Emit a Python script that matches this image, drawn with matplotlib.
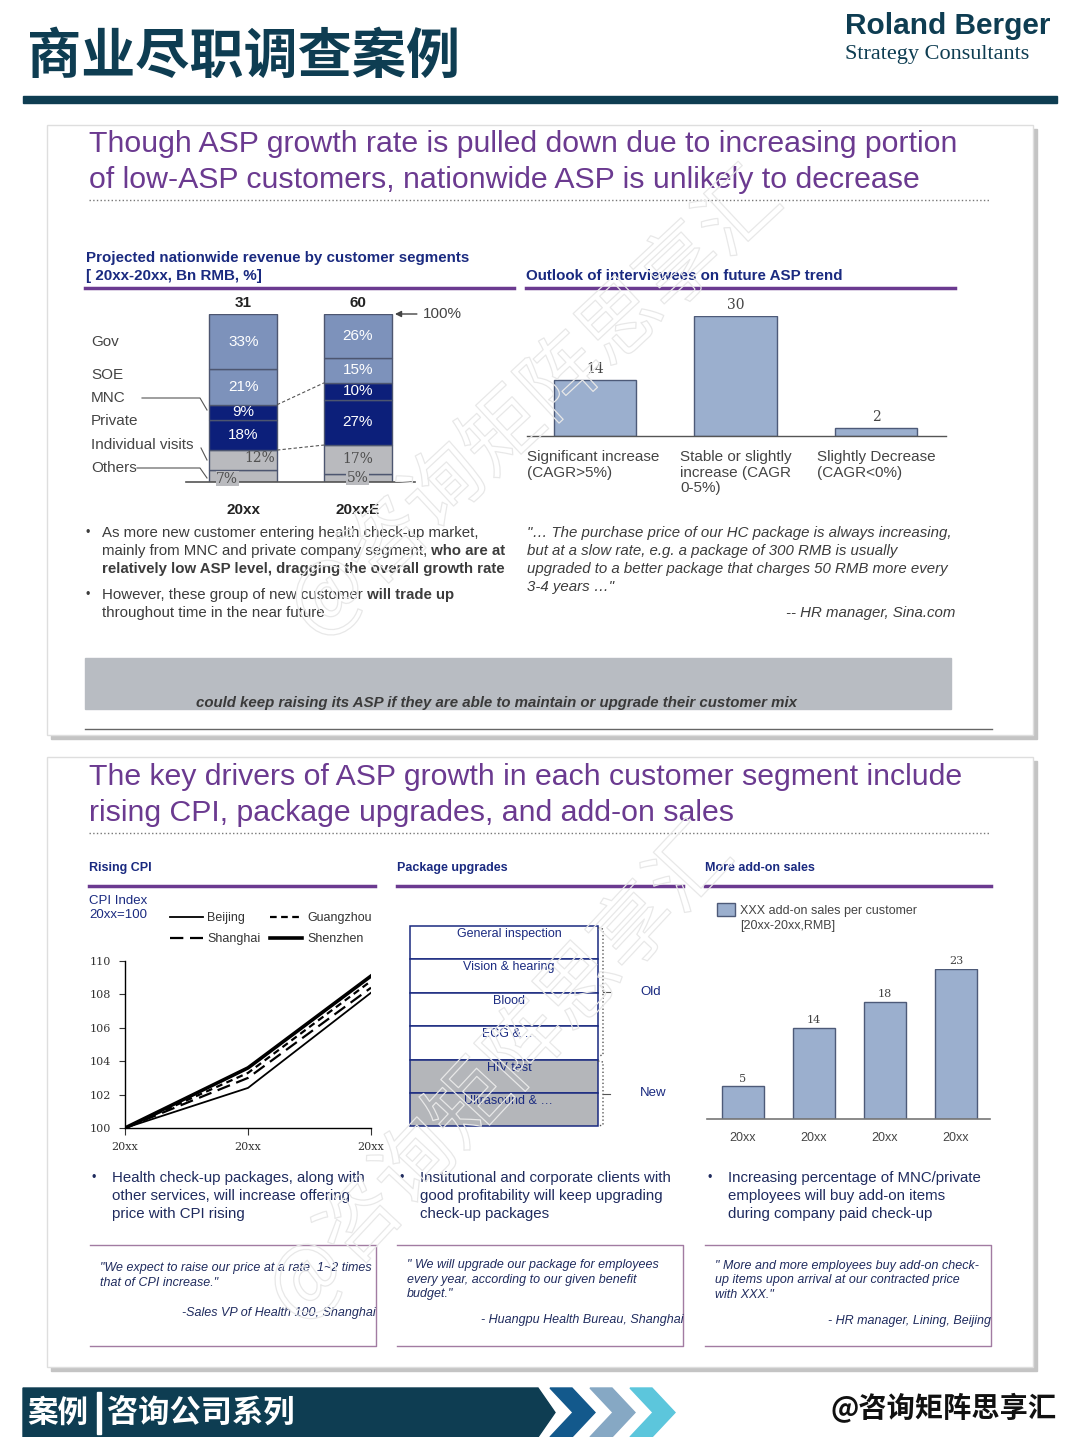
import matplotlib
matplotlib.use('Agg')
import matplotlib.pyplot as plt
from matplotlib.patches import Rectangle, Polygon
import matplotlib.patheffects as pe

plt.rcParams['font.family'] = ['Liberation Sans', 'Noto Sans CJK SC', 'DejaVu Sans']

# ---- data ----
mix_years = ['20xx', '20xxE']
mix_totals = [31, 60]
segments = ['Gov', 'SOE', 'MNC', 'Private', 'Individual visits', 'Others']
mix_20xx = [33, 21, 9, 18, 12, 7]
mix_20xxE = [26, 15, 10, 27, 17, 5]

outlook_cats = ['Significant increase\n(CAGR>5%)',
                'Stable or slightly\nincrease (CAGR\n0-5%)',
                'Slightly Decrease\n(CAGR<0%)']
outlook_vals = [14, 30, 2]

cpi_years = ['20xx', '20xx', '20xx']
cpi_beijing = [100, 102.4, 108.1]
cpi_shanghai = [100, 103.0, 108.4]
cpi_guangzhou = [100, 103.3, 108.8]
cpi_shenzhen = [100, 103.6, 109.1]

package_items = ['General inspection', 'Vision & hearing', 'Blood', 'ECG & …',
                 'HIV test', 'Ultrasound & …']
package_new = [False, False, False, False, True, True]

addon_years = ['20xx', '20xx', '20xx', '20xx']
addon_vals = [5, 14, 18, 23]

# ---- colours / fonts ----
TEAL = '#0e3d52'
PURPLE = '#6b3a90'
NAVY = '#1a2a80'
INK = '#1f2b5e'
GREY_TXT = '#3c3c3c'
LIGHT_BLUE = '#7d92bb'
DARK_BLUE = '#0c1f7a'
GREY_SEG = '#b9babe'
BAR_BLUE = '#9bafce'
BAR_EDGE = '#4d5a78'
SANS = ['Liberation Sans']
SERIF = ['DejaVu Serif']
CJK = ['Noto Sans CJK SC', 'DejaVu Sans']

W, H = 1080, 1437
fig = plt.figure(figsize=(W / 100, H / 100), dpi=100)
bg = fig.add_axes([0, 0, 1, 1])
bg.set_xlim(0, W)
bg.set_ylim(H, 0)
bg.axis('off')


def px_axes(x0, y0, x1, y1):
    return fig.add_axes([x0 / W, 1 - y1 / H, (x1 - x0) / W, (y1 - y0) / H])


def rich(x, y, parts, **kw):
    # draw a line made of normal / bold runs
    r = fig.canvas.get_renderer()
    for s, b in parts:
        t = bg.text(x, y, s, fontweight='bold' if b else 'normal', va='center', **kw)
        x += t.get_window_extent(renderer=r).width


# ---- header ----
bg.text(27, 57, '商业尽职调查案例', fontsize=39, family=CJK, fontweight='black',
        color=TEAL, va='center')
bg.text(845, 26, 'Roland Berger', fontsize=21.5, family=SANS, fontweight='bold',
        color=TEAL, va='center')
bg.text(845, 55, 'Strategy Consultants', fontsize=16, family=['Liberation Serif'],
        color=TEAL, va='center')
bg.add_patch(Rectangle((23, 96), 1034, 7, color=TEAL))

# ---- cards ----
for top in (125, 757):
    bg.add_patch(Rectangle((51, top + 4), 986, 610, color='#c4c4c4', zorder=0))
    bg.add_patch(Rectangle((47, top), 986, 610, fc='white', ec='#dedede', lw=1, zorder=0.5))

# ---- panel 1 ----
bg.text(89, 144, 'Though ASP growth rate is pulled down due to increasing portion',
        fontsize=21.8, color=PURPLE, va='center')
bg.text(89, 180, 'of low-ASP customers, nationwide ASP is unlikely to decrease',
        fontsize=21.8, color=PURPLE, va='center')
bg.plot([89, 990], [200, 200], ls=':', color='#777777', lw=1)

bg.text(86, 258, 'Projected nationwide revenue by customer segments', fontsize=10.9,
        fontweight='bold', color=NAVY, va='center')
bg.text(86, 276, '[ 20xx-20xx, Bn RMB, %]', fontsize=10.9, fontweight='bold', color=NAVY, va='center')
bg.plot([85, 514], [288, 288], color=PURPLE, lw=2.5)
bg.text(526, 276, 'Outlook of interviewees on future ASP trend', fontsize=10.9,
        fontweight='bold', color=NAVY, va='center')
bg.plot([526, 955], [288, 288], color=PURPLE, lw=2.5)

# stacked bars
ax1 = px_axes(186, 314, 415, 482)
ax1.set_xlim(-0.5, 1.5)
ax1.set_ylim(0, 100)
ax1.axis('off')
seg_colors = [LIGHT_BLUE, LIGHT_BLUE, DARK_BLUE, DARK_BLUE, GREY_SEG, GREY_SEG]
bw = 0.59
for i, mix in enumerate([mix_20xx, mix_20xxE]):
    bottom = 0
    for j in range(len(segments) - 1, -1, -1):
        v = mix[j]
        ax1.bar(i, v, bw, bottom=bottom, color=seg_colors[j], edgecolor='#4d5670', lw=1)
        c = bottom + v / 2
        if j < 4:
            ax1.text(i, c, f'{v}%', ha='center', va='center', color='white', fontsize=11)
        else:
            dx, dy = 0, 0
            if i == 0:
                dx, dy = (0.14, 1) if j == 4 else (-0.14, -1.5)
            box = None if j == 4 else dict(boxstyle='square,pad=0.05', fc=GREY_SEG, ec='none')
            ax1.text(i + dx, c + dy, f'{v}%', ha='center', va='center', color='#505050',
                     fontsize=10, family=SERIF, bbox=box)
        bottom += v
    ax1.text(i, 106.5, str(mix_totals[i]), ha='center', va='center', fontsize=11,
             fontweight='bold', color='#222222', clip_on=False)
    ax1.text(i, -16.5, mix_years[i], ha='center', va='center', fontsize=11,
             fontweight='bold', color='#222222', clip_on=False)
ax1.plot([-0.5, 1.5], [0, 0], color='#555555', lw=1.2, clip_on=False)
# dashed links between bars
mnc_top = [100 - m[0] - m[1] for m in (mix_20xx, mix_20xxE)]
priv_bot = [m[4] + m[5] for m in (mix_20xx, mix_20xxE)]
for lvl in (mnc_top, priv_bot):
    ax1.plot([bw / 2, 1 - bw / 2], lvl, ls='--', color='#555555', lw=0.8, dashes=(3, 2))
ax1.annotate('100%', xy=(1 + bw / 2 + 0.03, 100), xytext=(1 + bw / 2 + 0.27, 100),
             va='center', fontsize=11, color='#444444', annotation_clip=False,
             arrowprops=dict(arrowstyle='-|>', color='#444444', lw=1, mutation_scale=9,
                             shrinkA=2, shrinkB=0))
seg_label_y = [342, 375, 398, 421, 445, 468]
for name, y in zip(segments, seg_label_y):
    bg.text(91, y, name, fontsize=11, color='#444444', va='center')
bg.plot([142, 200, 207], [398, 398, 410], color='#555555', lw=0.8)
bg.plot([201, 207], [448, 460], color='#555555', lw=0.8)
bg.plot([137, 200, 207], [468, 468, 478], color='#555555', lw=0.8)

# outlook bars
ax2 = px_axes(527, 316, 946, 436)
ax2.set_xlim(-0.484, 2.498)
ax2.set_ylim(0, 30)
ax2.axis('off')
ax2.bar(range(3), outlook_vals, 0.59, color=BAR_BLUE, edgecolor=BAR_EDGE, lw=1)
ax2.plot([-0.484, 2.498], [0, 0], color='#555555', lw=1, clip_on=False)
for i, v in enumerate(outlook_vals):
    ax2.text(i, v + 2.7, str(v), ha='center', va='center', fontsize=10, family=SERIF,
             color='#444444', clip_on=False)
for x, lab in zip([-0.484, 0.605, 1.58], outlook_cats):
    ax2.text(x, -3.5, lab, ha='left', va='top', fontsize=11, color='#444444',
             linespacing=1.15, clip_on=False)

# bullets and quote
bkw = dict(fontsize=10.8, family=SANS, color=GREY_TXT)
bg.text(86, 533, '•', va='center', fontsize=9, color=GREY_TXT)
rich(102, 533, [('As more new customer entering health check-up market,', False)], **bkw)
rich(102, 551, [('mainly from MNC and private company segment,', False), (' who are at', True)], **bkw)
rich(102, 569, [('relatively low ASP level, dragging the overall growth rate', True)], **bkw)
bg.text(86, 595, '•', va='center', fontsize=9, color=GREY_TXT)
rich(102, 595, [('However, these group of new customer', False), (' will trade up', True)], **bkw)
rich(102, 613, [('throughout time in the near future', False)], **bkw)

quote1 = ['"… The purchase price of our HC package is always increasing,',
          'but at a slow rate, e.g. a package of 300 RMB is usually',
          'upgraded to a better package that charges 50 RMB more every',
          '3-4 years …"']
for k, s in enumerate(quote1):
    bg.text(527, 533 + 18 * k, s, va='center', style='italic', **bkw)
bg.text(955, 613, '-- HR manager, Sina.com', va='center', ha='right', style='italic', **bkw)

bg.add_patch(Rectangle((85, 658), 866, 51, color='#b8bcc2'))
bg.text(196, 703, 'could keep raising its ASP if they are able to maintain or upgrade their customer mix',
        fontsize=10.8, family=SANS, fontweight='bold', style='italic', color='#3a3a3a', va='center')
bg.plot([85, 992], [729, 729], color='#666666', lw=1)

# ---- panel 2 ----
bg.text(89, 777, 'The key drivers of ASP growth in each customer segment include',
        fontsize=21.8, color=PURPLE, va='center')
bg.text(89, 813, 'rising CPI, package upgrades, and add-on sales',
        fontsize=21.8, color=PURPLE, va='center')
bg.plot([89, 990], [833, 833], ls=':', color='#777777', lw=1)

for x0, title in zip([89, 397, 705], ['Rising CPI', 'Package upgrades', 'More add-on sales']):
    bg.text(x0, 868, title, fontsize=9, fontweight='bold', color=NAVY, va='center')
    bg.plot([x0, x0 + 286], [886, 886], color=PURPLE, lw=2.5)

# CPI lines
bg.text(89, 901, 'CPI Index', fontsize=9.5, color=NAVY, va='center')
bg.text(89, 915, '20xx=100', fontsize=9.5, color=NAVY, va='center')
ax3 = px_axes(125, 961, 371, 1128)
ax3.set_xlim(0, 2)
ax3.set_ylim(100, 110)
l_bj, = ax3.plot(range(3), cpi_beijing, color='black', lw=1.3)
l_sh, = ax3.plot(range(3), cpi_shanghai, color='black', lw=1.6, dashes=(6, 3))
l_gz, = ax3.plot(range(3), cpi_guangzhou, color='black', lw=1.6, dashes=(3, 2))
l_sz, = ax3.plot(range(3), cpi_shenzhen, color='black', lw=2.6)
for s in ('top', 'right'):
    ax3.spines[s].set_visible(False)
for s in ('left', 'bottom'):
    ax3.spines[s].set_linewidth(1)
ax3.set_yticks(range(100, 111, 2))
ax3.set_xticks(range(3))
ax3.set_xticklabels(cpi_years)
ax3.tick_params(axis='y', direction='out', length=4, pad=6, labelsize=8, colors='#333333')
ax3.tick_params(axis='x', direction='out', length=5, pad=5, labelsize=8, colors='#333333')
for lab in ax3.get_xticklabels() + ax3.get_yticklabels():
    lab.set_family(SERIF)
ax3.patch.set_alpha(0)
fig.legend([l_bj, l_sh, l_gz, l_sz], ['Beijing', 'Shanghai', 'Guangzhou', 'Shenzhen'],
           ncol=2, frameon=False, loc='upper left', bbox_to_anchor=(170 / W, 1 - 912 / H),
           borderpad=0, borderaxespad=0, fontsize=9, handlelength=2.6, handletextpad=0.4,
           columnspacing=0.7, labelspacing=0.75, labelcolor='#333333')

# package upgrade boxes
row_h = 33.4
for k, (item, new) in enumerate(zip(package_items, package_new)):
    y0 = 926 + k * row_h
    bg.add_patch(Rectangle((410, y0), 188, row_h, fc='#b4b6ba' if new else 'white',
                           ec=NAVY, lw=1.1))
    bg.text(509, y0 + 8, item, ha='center', va='center', fontsize=9, color=NAVY)
for top, bot, lab in [(928, 1056, 'Old'), (1061, 1126, 'New')]:
    mid = (top + bot) / 2
    bg.plot([598, 603, 603, 598], [top, top + 1, bot - 1, bot], ls=':', color='#555555', lw=1)
    bg.plot([603, 610], [mid, mid], color='#555555', lw=0.8)
    bg.text(640, mid, lab, va='center', fontsize=9.5, color=NAVY)

# add-on bars
bg.add_patch(Rectangle((717, 903), 18, 13, fc=BAR_BLUE, ec=BAR_EDGE, lw=1))
bg.text(740, 911, 'XXX add-on sales per customer', fontsize=9, color='#444444', va='center')
bg.text(740, 926, '[20xx-20xx,RMB]', fontsize=9, color='#444444', va='center')
ax4 = px_axes(707, 969, 990, 1119)
ax4.set_xlim(-0.507, 3.479)
ax4.set_ylim(0, 23)
ax4.axis('off')
ax4.bar(range(4), addon_vals, 0.6, color=BAR_BLUE, edgecolor=BAR_EDGE, lw=1)
ax4.plot([-0.507, 3.479], [0, 0], color='#777777', lw=1.2, clip_on=False)
for i, v in enumerate(addon_vals):
    ax4.text(i, v + 1.2, str(v), ha='center', va='center', fontsize=8, family=SERIF,
             color='#444444', clip_on=False)
    ax4.text(i, -2.9, addon_years[i], ha='center', va='center', fontsize=9,
             color='#444444', clip_on=False)

# bullets panel 2
cols = [
    (92, ['Health check-up packages, along with', 'other services, will increase offering',
          'price with CPI rising']),
    (400, ['Institutional and corporate clients with', 'good profitability will keep upgrading',
           'check-up packages']),
    (708, ['Increasing percentage of MNC/private', 'employees will buy add-on items',
           'during company paid check-up']),
]
for x0, lines in cols:
    bg.text(x0, 1178, '•', va='center', fontsize=9, color=INK)
    for k, s in enumerate(lines):
        bg.text(x0 + 20, 1178 + 18 * k, s, va='center', fontsize=10.8, family=SANS, color=INK)

# quote boxes
quotes = [
    (90, ['"We expect to raise our price at a rate  1~2 times', 'that of CPI increase."'],
     1268, 182, 1313, '-Sales VP of Health 100, Shanghai'),
    (397, ['" We will upgrade our package for employees', 'every year, according to our given benefit',
           'budget."'], 1265, 481, 1320, '- Huangpu Health Bureau, Shanghai'),
    (705, ['" More and more employees buy add-on check-', 'up items upon arrival at our contracted price',
           'with XXX."'], 1266, 828, 1321, '- HR manager, Lining, Beijing'),
]
for x0, lines, y_first, ax_x, ax_y, who in quotes:
    x1 = x0 + 286
    bg.plot([x0, x1, x1, x0], [1245, 1245, 1346, 1346], color='#a27ba2', lw=1)
    clip = Rectangle((x0, 1245), 286, 101, transform=bg.transData)
    for k, s in enumerate(lines):
        t = bg.text(x0 + 10, y_first + 14.5 * k, s, va='center', fontsize=9, family=SANS,
                    style='italic', color=INK)
        t.set_clip_path(clip)
    t = bg.text(ax_x, ax_y, who, va='center', fontsize=9, family=SANS, style='italic', color=INK)
    t.set_clip_path(clip)

# ---- footer ----
bg.add_patch(Polygon([(23, 1388), (538, 1388), (555, 1412.5), (538, 1437), (23, 1437)],
                     closed=True, color=TEAL))
for x0, c in [(550, '#13598c'), (590, '#86a8c4'), (630, '#5cc6dc')]:
    bg.add_patch(Polygon([(x0, 1388), (x0 + 22, 1388), (x0 + 45, 1412.5), (x0 + 22, 1437),
                          (x0, 1437), (x0 + 23, 1412.5)], closed=True, color=c))
bg.text(27, 1413, '案例', fontsize=22, family=CJK, fontweight='bold', color='white', va='center')
bg.add_patch(Rectangle((97, 1392), 4, 42, color='white'))
bg.text(107, 1413, '咨询公司系列', fontsize=22.5, family=CJK, fontweight='bold', color='white', va='center')
bg.text(830, 1408, '@咨询矩阵思享汇', fontsize=20.3, family=CJK, fontweight='bold', color='#111111',
        va='center')

# ---- watermark ----
for (cx, cy, rot) in [(535, 405, 43), (500, 1075, 47)]:
    fig.text(cx / W, 1 - cy / H, '@咨询矩阵思享汇', fontsize=58, family=CJK, rotation=rot,
             ha='center', va='center', color='none', zorder=10,
             path_effects=[pe.Stroke(linewidth=0.9, foreground='#e8e8e8')])

fig.savefig('out.png', dpi=100)
